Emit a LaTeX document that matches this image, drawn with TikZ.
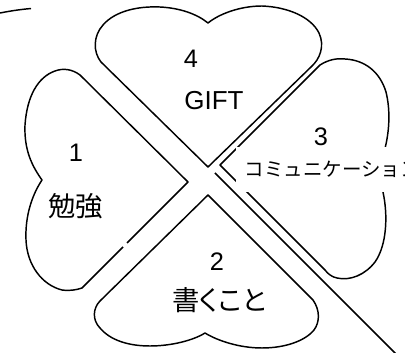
\documentclass[tikz,border=0pt]{standalone}
\usepackage{fontspec}
\setmainfont{Liberation Sans}
\newfontfamily\jpfont{Noto Sans CJK JP}
\newfontfamily\jppfont[RawFeature=+palt]{Noto Sans CJK JP}
\usepackage{tikz}

\begin{document}
\begin{tikzpicture}[x=0.75pt,y=0.75pt,yscale=-1,xscale=1,
  leaf/.style={line width=1.1pt,line join=round},
  num/.style={inner sep=0pt,font=\fontsize{19pt}{21pt}\selectfont},
  jptext/.style={inner sep=0pt,font=\fontsize{20.5pt}{23pt}\selectfont\jpfont}]
\useasboundingbox (0,0) rectangle (405,353);

%Curve [top left]
\draw [leaf] (0,13) .. controls (10,11) and (20,9.5) .. (31,8.5) ;
%Shape: Leaf 4 [top]
\draw [leaf] (208,167) -- (101,62) .. controls (93,52) and (93,36) .. (103,25) .. controls (115,11) and (138,6) .. (160,7) .. controls (180,8) and (197,14) .. (208,23) .. controls (219,14) and (240,6) .. (262,6) .. controls (288,7) and (311,17) .. (319,33) .. controls (325,46) and (320,59) .. (311,67) -- cycle ;
%Shape: Leaf 1 [left], open at the small gap
\draw [leaf] (127,243) -- (188,182) -- (80,75) .. controls (72,69) and (63,68) .. (55,71) .. controls (38,77) and (27,96) .. (25,125) .. controls (24,150) and (32,166) .. (42,180) .. controls (32,195) and (25,216) .. (26,240) .. controls (27,265) and (42,285) .. (62,290) .. controls (70,291) and (76,290) .. (82,288) -- (123,247) ;
%Shape: Leaf 3 [right]
\draw [leaf] (220,165) -- (320,65) .. controls (328,60) and (336,58) .. (345,59) .. controls (365,60) and (380,72) .. (386,92) .. controls (391,112) and (389,135) .. (384,152) .. controls (382,160) and (379,166) .. (378,170) .. controls (379,177) and (381,184) .. (383,192) .. controls (388,215) and (387,245) .. (375,262) .. controls (365,275) and (350,281) .. (337,278) .. controls (332,277) and (328,274) .. (325,270) -- cycle ;
%Shape: Leaf 2 [bottom]
\draw [leaf] (208,195) -- (100,301) .. controls (93,308) and (92,320) .. (100,328) .. controls (110,340) and (128,346) .. (150,346) .. controls (172,346) and (194,340) .. (205,333) .. controls (218,341) and (240,348) .. (262,348) .. controls (285,348) and (305,341) .. (314,330) .. controls (320,322) and (320,310) .. (313,300) -- cycle ;
%Straight Lines [long diagonal]
\draw [leaf] (215,173) -- (396,354) ;

% Text Node
\draw (191,59) node [num] (n4) {4};
% Text Node
\draw (214,101) node [num,font=\fontsize{19.5pt}{21pt}\selectfont] (gift) {GIFT};
% Text Node
\draw (76,153) node [num] (n1) {1};
% Text Node
\draw (76,206) node [jptext] (benkyo) {勉強};
% Text Node
\draw (321,137) node [num] (n3) {3};
% Text Node
\draw (236,169.5) node [anchor=west,fill=white,inner xsep=6.5pt,inner ysep=0pt,minimum height=34pt,font=\fontsize{14.6pt}{16pt}\selectfont\jpfont] (comm) {コミュニケーション};
% Text Node
\draw (217,262) node [num] (n2) {2};
% Text Node
\draw (219,300) node [jptext,font=\fontsize{20.5pt}{23pt}\selectfont\jppfont] (kaku) {書くこと};

\end{tikzpicture}
\end{document}
